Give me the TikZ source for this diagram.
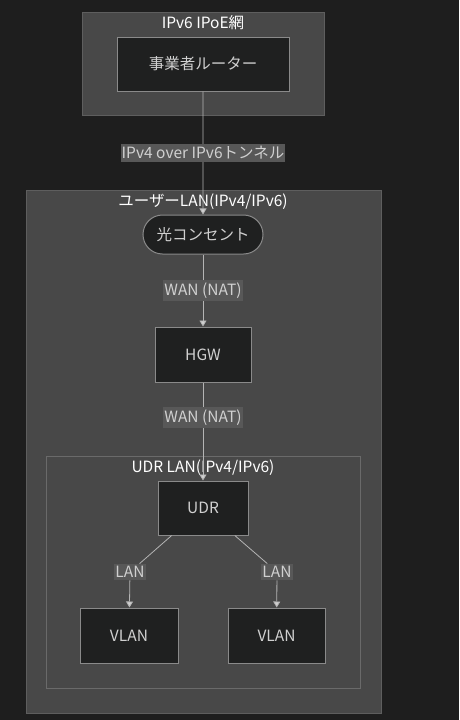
\documentclass[tikz,border=0pt]{standalone}
\usepackage{fontspec}
\setmainfont{Noto Sans CJK JP}
\usetikzlibrary{arrows.meta, shapes.misc}
\definecolor{bgdark}{HTML}{1E1E1E}
\definecolor{clusterfill}{HTML}{484848}
\definecolor{clusterline}{HTML}{5E5E5E}
\definecolor{innerline}{HTML}{6A6A6A}
\definecolor{nodefill}{HTML}{1F2020}
\definecolor{nodeline}{HTML}{8A8A8A}
\definecolor{nodetext}{HTML}{D0D0D0}
\definecolor{linkcolor}{HTML}{B4B4B4}
\definecolor{labelfill}{HTML}{585858}
\def\ispcluster{(82,12) rectangle (324,115)}
\def\usercluster{(26,190) rectangle (381,713)}
\def\udrcluster{(46,456) rectangle (360,688)}

\begin{document}
\begin{tikzpicture}[x=1pt, y=-1pt, font=\fontsize{15.5}{18}\selectfont,
	box/.style={draw=nodeline, fill=nodefill, text=nodetext, line width=1pt, inner sep=0pt},
	title/.style={text=white},
	lbl/.style={fill=labelfill, text=nodetext, inner xsep=1pt, inner ysep=2.5pt},
	link/.style={draw=linkcolor, line width=0.8pt},
	arrow/.style={link, -{Triangle[width=7pt,length=6pt,fill=nodetext]}}]
	\fill[bgdark] (0,0) rectangle (459,720);

	% clusters
	\filldraw[fill=clusterfill, draw=clusterline, line width=1pt] \ispcluster;
	\filldraw[fill=clusterfill, draw=clusterline, line width=1pt] \usercluster;
	\filldraw[fill=clusterfill, draw=innerline, line width=1pt] \udrcluster;
	\node[title] (isptitle) at (203,23) {IPv6 IPoE網};
	\node[title] (usertitle) at (203,202) {ユーザーLAN(IPv4/IPv6)};
	\node[title] (udrtitle) at (203,468) {UDR LAN(IPv4/IPv6)};

	% nodes
	\node[box, minimum width=172pt, minimum height=54pt] (router) at (203,64) {事業者ルーター};
	\node[box, rounded rectangle, minimum width=120pt, minimum height=39pt] (hikari) at (203,234.5) {光コンセント};
	\node[box, minimum width=96pt, minimum height=55pt] (hgw) at (203,354.5) {HGW};
	\node[box, minimum width=90pt, minimum height=54pt] (udr) at (203,508) {UDR};
	\node[box, minimum width=98pt, minimum height=55pt] (vlanA) at (129,635.5) {VLAN};
	\node[box, minimum width=97pt, minimum height=55pt] (vlanB) at (276.5,635.5) {VLAN};

	% connectors
	\draw[arrow] (router) -- node[lbl] (tunnel) {IPv4 over IPv6トンネル} (hikari);
	\draw[arrow] (hikari) -- node[lbl] (wanA) {WAN (NAT)} (hgw);
	\draw[arrow] (hgw) -- node[lbl, pos=0.36] (wanB) {WAN (NAT)} (udr);
	\node[lbl] (lanA) at (130,572) {LAN};
	\node[lbl] (lanB) at (277,572) {LAN};
	\draw[link] (udr) -- (lanA);
	\draw[arrow] (lanA) -- (vlanA);
	\draw[link] (udr) -- (lanB);
	\draw[arrow] (lanB) -- (vlanB);
\end{tikzpicture}
\end{document}
